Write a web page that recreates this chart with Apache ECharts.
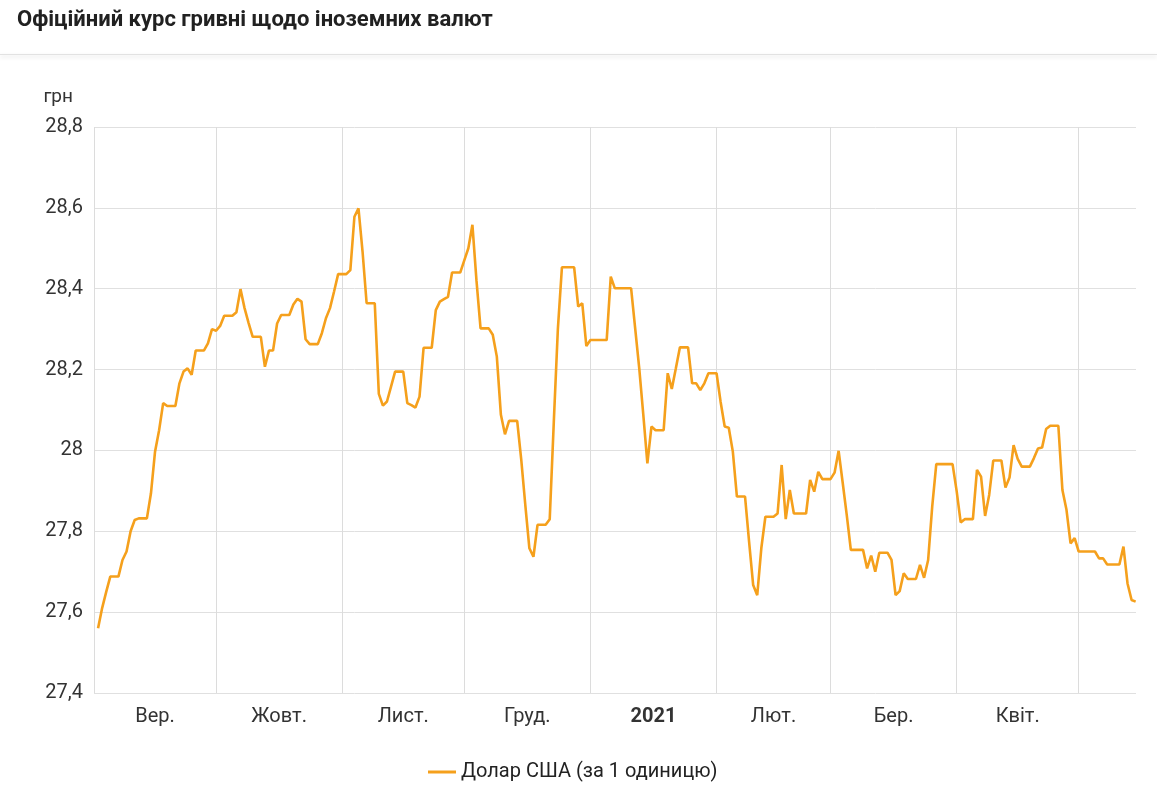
<!DOCTYPE html>
<html><head><meta charset="utf-8">
<script src="https://cdn.jsdelivr.net/npm/echarts@6/dist/echarts.min.js"></script>
<style>html,body{margin:0;padding:0;background:#fff}#c{width:1157px;height:802px}</style>
</head><body><div id="c"></div>
<script>
const chartTitle = 'Офіційний курс гривні щодо іноземних валют';
const unitLabel = 'грн';
const seriesName = 'Долар США (за 1 одиницю)';

const dates = [
 '2020-09-02','2020-09-03','2020-09-04','2020-09-05','2020-09-07','2020-09-08','2020-09-09','2020-09-10','2020-09-11','2020-09-12',
 '2020-09-14','2020-09-15','2020-09-16','2020-09-17','2020-09-18','2020-09-19','2020-09-21','2020-09-22','2020-09-23','2020-09-24',
 '2020-09-25','2020-09-26','2020-09-28','2020-09-29','2020-09-30','2020-10-01','2020-10-02','2020-10-03','2020-10-05','2020-10-06',
 '2020-10-07','2020-10-08','2020-10-09','2020-10-10','2020-10-12','2020-10-13','2020-10-14','2020-10-15','2020-10-16','2020-10-17',
 '2020-10-19','2020-10-20','2020-10-21','2020-10-22','2020-10-23','2020-10-24','2020-10-26','2020-10-27','2020-10-28','2020-10-29',
 '2020-10-30','2020-10-31','2020-11-02','2020-11-03','2020-11-04','2020-11-05','2020-11-06','2020-11-07','2020-11-09','2020-11-10',
 '2020-11-11','2020-11-12','2020-11-13','2020-11-14','2020-11-16','2020-11-17','2020-11-18','2020-11-19','2020-11-20','2020-11-21',
 '2020-11-23','2020-11-24','2020-11-25','2020-11-26','2020-11-27','2020-11-28','2020-11-30','2020-12-01','2020-12-02','2020-12-03',
 '2020-12-04','2020-12-05','2020-12-07','2020-12-08','2020-12-09','2020-12-10','2020-12-11','2020-12-12','2020-12-14','2020-12-15',
 '2020-12-16','2020-12-17','2020-12-18','2020-12-19','2020-12-21','2020-12-22','2020-12-23','2020-12-24','2020-12-25','2020-12-28',
 '2020-12-29','2020-12-30','2020-12-31','2021-01-01','2021-01-05','2021-01-06','2021-01-07','2021-01-11','2021-01-12','2021-01-13',
 '2021-01-14','2021-01-15','2021-01-16','2021-01-17','2021-01-19','2021-01-20','2021-01-21','2021-01-22','2021-01-23','2021-01-25',
 '2021-01-26','2021-01-27','2021-01-28','2021-01-29','2021-01-30','2021-02-01','2021-02-02','2021-02-03','2021-02-04','2021-02-05',
 '2021-02-06','2021-02-08','2021-02-09','2021-02-10','2021-02-11','2021-02-12','2021-02-13','2021-02-15','2021-02-16','2021-02-17',
 '2021-02-18','2021-02-19','2021-02-20','2021-02-23','2021-02-24','2021-02-25','2021-02-26','2021-02-27','2021-03-01','2021-03-02',
 '2021-03-03','2021-03-04','2021-03-05','2021-03-06','2021-03-09','2021-03-10','2021-03-11','2021-03-12','2021-03-13','2021-03-15',
 '2021-03-16','2021-03-17','2021-03-18','2021-03-19','2021-03-20','2021-03-22','2021-03-23','2021-03-24','2021-03-25','2021-03-26',
 '2021-03-27','2021-03-31','2021-04-01','2021-04-02','2021-04-03','2021-04-05','2021-04-06','2021-04-07','2021-04-08','2021-04-09',
 '2021-04-10','2021-04-12','2021-04-13','2021-04-14','2021-04-15','2021-04-16','2021-04-17','2021-04-19','2021-04-20','2021-04-21',
 '2021-04-22','2021-04-23','2021-04-24','2021-04-26','2021-04-27','2021-04-28','2021-04-29','2021-04-30','2021-05-01','2021-05-05',
 '2021-05-06','2021-05-07','2021-05-08','2021-05-11','2021-05-12','2021-05-13','2021-05-14','2021-05-15'
];
const usdRates = [
 27.560,27.610,27.650,27.688,27.688,27.729,27.750,27.800,27.828,27.832,
 27.832,27.894,27.997,28.050,28.117,28.110,28.110,28.166,28.195,28.203,
 28.187,28.247,28.247,28.265,28.300,28.296,28.308,28.333,28.333,28.342,
 28.399,28.352,28.315,28.281,28.281,28.207,28.247,28.247,28.314,28.335,
 28.335,28.361,28.375,28.368,28.275,28.263,28.263,28.290,28.327,28.352,
 28.393,28.436,28.436,28.446,28.578,28.599,28.492,28.364,28.364,28.140,
 28.111,28.121,28.158,28.195,28.195,28.117,28.112,28.106,28.133,28.254,
 28.254,28.347,28.368,28.374,28.380,28.440,28.440,28.470,28.500,28.558,
 28.420,28.302,28.302,28.286,28.232,28.088,28.040,28.073,28.073,27.977,
 27.865,27.758,27.737,27.816,27.816,27.830,28.070,28.300,28.453,28.453,
 28.356,28.364,28.258,28.273,28.273,28.430,28.401,28.401,28.302,28.203,
 28.088,27.968,28.059,28.050,28.050,28.191,28.152,28.203,28.255,28.255,
 28.166,28.166,28.149,28.166,28.191,28.191,28.120,28.059,28.056,27.997,
 27.886,27.886,27.774,27.667,27.642,27.758,27.836,27.836,27.844,27.964,
 27.830,27.902,27.844,27.844,27.927,27.898,27.947,27.929,27.929,27.945,
 27.999,27.920,27.840,27.754,27.754,27.708,27.740,27.700,27.747,27.747,
 27.729,27.642,27.652,27.696,27.682,27.682,27.717,27.685,27.729,27.861,
 27.966,27.966,27.900,27.822,27.830,27.830,27.952,27.935,27.838,27.890,
 27.975,27.975,27.908,27.933,28.013,27.979,27.960,27.960,27.981,28.005,
 28.007,28.053,28.061,28.061,27.902,27.853,27.770,27.783,27.750,27.750,
 27.733,27.733,27.718,27.718,27.762,27.671,27.630,27.626
];

const monthStarts = ['2020-09-01','2020-10-01','2020-11-01','2020-12-01','2021-01-01','2021-02-01','2021-03-01','2021-04-01','2021-05-01'];
const tickLabelDates = ['2020-09-16 00:00','2020-10-16 12:00','2020-11-16 00:00','2020-12-16 12:00','2021-01-16 12:00','2021-02-15 00:00','2021-03-16 12:00','2021-04-16 00:00'];
const tickLabels = ['Вер.','Жовт.','Лист.','Груд.','2021','Лют.','Бер.','Квіт.'];
const xRange = ['2020-09-01 00:00', '2021-05-15 02:00'];
const yTicks = { min: 27.4, max: 28.8, step: 0.2 };

// parse 'YYYY-MM-DD[ HH:mm]' to a UTC timestamp
function ts(s) {
  const m = s.match(/^(\d{4})-(\d{2})-(\d{2})(?:\s+(\d{2}):(\d{2}))?$/);
  return Date.UTC(+m[1], +m[2] - 1, +m[3], m[4] ? +m[4] : 0, m[5] ? +m[5] : 0);
}
const labelTimes = tickLabelDates.map(ts);

const chart = echarts.init(document.getElementById('c'), null, { renderer: 'canvas' });
const FONT = 'Roboto, "Noto Sans", sans-serif';
const LINE_COLOR = '#f5a01c';
chart.setOption({
  animation: false,
  backgroundColor: '#fff',
  textStyle: { fontFamily: FONT },
  title: {
    text: chartTitle, left: 12, top: 4,
    textStyle: { fontSize: 22, fontWeight: 'bold', color: '#212121', fontFamily: FONT }
  },
  graphic: [{
    type: 'rect', left: 0, top: 54, shape: { width: 1157, height: 1 },
    style: { fill: '#e2e2e2', shadowBlur: 4, shadowColor: 'rgba(0,0,0,0.18)', shadowOffsetY: 2 }, silent: true
  }],
  legend: {
    data: [seriesName], left: 428, top: 762, padding: 0,
    icon: 'rect', itemWidth: 28, itemHeight: 3,
    itemStyle: { color: LINE_COLOR },
    textStyle: { fontSize: 20, color: '#222', fontFamily: FONT }
  },
  grid: { left: 94, right: 21, top: 127, bottom: 109, containLabel: false },
  xAxis: {
    type: 'value',
    min: ts(xRange[0]), max: ts(xRange[1]),
    axisLine: { show: false },
    axisTick: { show: false, customValues: monthStarts.map(ts) },
    splitLine: { show: true, lineStyle: { color: '#dcdcdc', width: 1 } },
    axisLabel: {
      customValues: labelTimes,
      color: '#333', fontSize: 20, margin: 14, fontFamily: FONT,
      formatter: function (v) {
        let best = 0, bd = Infinity;
        labelTimes.forEach((t, i) => { const d = Math.abs(t - v); if (d < bd) { bd = d; best = i; } });
        const s = tickLabels[best];
        return /^\d{4}$/.test(s) ? '{b|' + s + '}' : s;
      },
      rich: { b: { fontWeight: 'bold', fontSize: 20, color: '#333', fontFamily: FONT } }
    }
  },
  yAxis: {
    type: 'value', min: yTicks.min, max: yTicks.max, interval: yTicks.step,
    name: unitLabel, nameLocation: 'end', nameGap: 20,
    nameTextStyle: { color: '#333', fontSize: 19, align: 'right', padding: [0, 21, 0, 0], fontFamily: FONT },
    axisLine: { show: false }, axisTick: { show: false },
    axisLabel: {
      color: '#333', fontSize: 20, margin: 11, fontFamily: FONT,
      formatter: (v) => String(Math.round(v * 10) / 10).replace('.', ',')
    },
    splitLine: { lineStyle: { color: '#e0e0e0', width: 1 } }
  },
  series: [{
    name: seriesName, type: 'line', symbol: 'none', showSymbol: false,
    lineStyle: { color: LINE_COLOR, width: 2.6 }, itemStyle: { color: LINE_COLOR },
    data: dates.map((d, i) => [ts(d), usdRates[i]])
  }]
});
</script></body></html>
